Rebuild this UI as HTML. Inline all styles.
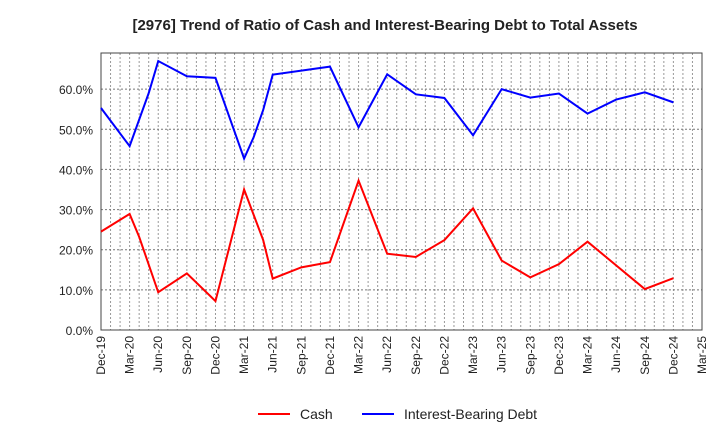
<!DOCTYPE html>
<html><head><meta charset="utf-8"><style>
body{margin:0;background:#fff;font-family:"Liberation Sans",sans-serif;}
</style></head><body>
<svg width="720" height="440" xmlns="http://www.w3.org/2000/svg" font-family="Liberation Sans, sans-serif">
<text x="385" y="30" text-anchor="middle" font-size="15" font-weight="bold" fill="#222">[2976]  Trend of Ratio of Cash and Interest-Bearing Debt to Total Assets</text>
<g id="grid"></g>
<g id="axes"></g>
<g id="series"></g>
<g>
<line x1="258" y1="414" x2="290" y2="414" stroke="#f00" stroke-width="2"/>
<text x="300" y="419" font-size="14" fill="#222">Cash</text>
<line x1="362" y1="414" x2="394" y2="414" stroke="#00f" stroke-width="2"/>
<text x="404" y="419" font-size="14" fill="#222">Interest-Bearing Debt</text>
</g>
</svg>
<script>
const xLabels=["Dec-19","Mar-20","Jun-20","Sep-20","Dec-20","Mar-21","Jun-21","Sep-21","Dec-21","Mar-22","Jun-22","Sep-22","Dec-22","Mar-23","Jun-23","Sep-23","Dec-23","Mar-24","Jun-24","Sep-24","Dec-24","Mar-25"];
const yTicks=[0,10,20,30,40,50,60];
const debtMonths=[0,3,5,6,9,12,15,16,17,18,21,24,27,30,33,36,39,42,45,48,51,54,57,60];
const debtValues=[55.3,45.8,59.0,67.0,63.2,62.8,42.7,48.0,54.8,63.6,64.6,65.6,50.5,63.7,58.7,57.8,48.5,60.0,57.9,58.9,53.9,57.4,59.2,56.7];
const cashMonths=[0,3,4,6,9,12,15,17,18,21,24,27,30,33,36,39,42,45,48,51,57,60];
const cashValues=[24.5,28.9,23.2,9.4,14.1,7.2,35.0,22.4,12.8,15.6,16.9,37.2,19.0,18.2,22.4,30.3,17.3,13.1,16.4,22.0,10.2,12.9];
const L=101,R=702,T=53,B=330,YMAX=69,NM=63;
const X=m=>L+(R-L)*m/NM, Y=v=>B-(B-T)*v/YMAX;
const ns="http://www.w3.org/2000/svg";
function mk(tag,attrs,parent,txt){const e=document.createElementNS(ns,tag);for(const k in attrs)e.setAttribute(k,attrs[k]);if(txt!==undefined)e.textContent=txt;document.getElementById(parent).appendChild(e);return e;}
for(let m=1;m<NM;m++){const e=mk('line',{x1:X(m),x2:X(m),y1:T,y2:B,stroke:'#999','stroke-dasharray':'2,2','stroke-width':1},'grid');

}
yTicks.forEach(v=>{if(v>0){const g=mk('line',{x1:L,x2:R,y1:Y(v),y2:Y(v),stroke:'#777','stroke-dasharray':'2,2','stroke-width':1},'grid');

}
const t=mk('text',{x:L-8,y:Y(v)+5,'text-anchor':'end','font-size':12,fill:'#222'},'axes',v.toFixed(1)+'%');

});
xLabels.forEach((s,i)=>{const x=X(i*3);const t=mk('text',{x:0,y:0,transform:`translate(${x+4},${B+6}) rotate(-90)`,'text-anchor':'end','font-size':12,fill:'#222'},'axes',s);

});
const fr=mk('rect',{x:L,y:T,width:R-L,height:B-T,fill:'none',stroke:'#444','stroke-width':1},'axes');


function line(ms,vs,c,n){const p=mk('polyline',{points:ms.map((m,i)=>X(m)+','+Y(vs[i])).join(' '),fill:'none',stroke:c,'stroke-width':2},'series');

}
line(cashMonths,cashValues,'#f00','cash-line');
line(debtMonths,debtValues,'#00f','debt-line');
</script>
</body></html>
